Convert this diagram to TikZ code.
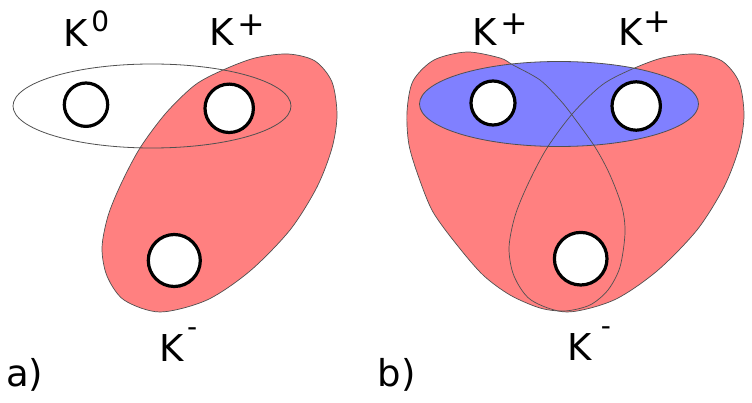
\documentclass[tikz,border=0pt]{standalone}
\usepackage{fontspec}
\setmainfont{DejaVu Sans}
\definecolor{pinkfill}{HTML}{FF8080}
\definecolor{bluefill}{HTML}{8080FF}
\definecolor{edgegray}{HTML}{505050}
\newcommand\upk[4]{\kern#1pt\raisebox{#2pt}{\fontsize{#3}{#3}\selectfont #4}}
\begin{document}
\begin{tikzpicture}[x=1pt,y=-1pt,
  disk/.style={circle, draw=black, line width=3.2pt, fill=white, inner sep=0pt},
  lab/.style={inner sep=0pt, anchor=base west, font=\fontsize{37}{40}\selectfont},
  blob/.style={fill=pinkfill},
  blobedge/.style={draw=edgegray, line width=0.7pt},
  ring/.style={draw=edgegray, line width=0.8pt}]
\useasboundingbox (0,0) rectangle (752,403);

% ---------- a) ----------
\path[blob, blobedge] plot[smooth cycle] coordinates {
  (288,54) (315,61) (332,82) (337,115) (332,148) (317,187) (290,230)
  (250,271) (207,300) (160,312) (124,300) (107,276) (102,248) (108,216)
  (121,184) (140,148) (166,113) (195,85) (223,70) (255,58)};
\draw[ring] (152,106) ellipse [x radius=139, y radius=42];
\node[disk, minimum size=43.4pt] (a0) at (86,104.7) {};
\node[disk, minimum size=48.4pt] (ap) at (229.2,108.3) {};
\node[disk, minimum size=52pt] (am) at (174.3,260.5) {};
\node[lab] (la0) at (63,46.7) {K\upk{4}{15}{28}{0}};
\node[lab] (lap) at (209.7,46) {K\upk{3}{10.3}{33}{+}};
\node[lab] (lam) at (159.7,361.7) {K\upk{3}{25}{28}{-}};
\node[lab] (tagA) at (6,386.7) {a)};

% ---------- b) ----------
\path[blob] plot[smooth cycle] coordinates {
  (467,52) (500,58) (513,65) (540,80) (560,100) (572,115) (595,147)
  (610,175) (622,207) (625,233) (620,267) (608,290) (590,305) (565,311)
  (540,308) (510,295) (483,275) (457,245) (433,212) (419,178) (409,145)
  (407,112) (413,81) (434,60)};
\begin{scope}[shift={(407,0)}]
\path[blob] plot[smooth cycle] coordinates {
  (288,54) (315,61) (332,82) (337,115) (332,148) (317,187) (290,230)
  (250,271) (207,300) (160,312) (124,300) (107,276) (102,248) (108,216)
  (121,184) (140,148) (166,113) (195,85) (223,70) (255,58)};
\end{scope}
\path[fill=bluefill, ring] (559,104) ellipse [x radius=139.5, y radius=42.5];
\path[blobedge] plot[smooth cycle] coordinates {
  (467,52) (500,58) (513,65) (540,80) (560,100) (572,115) (595,147)
  (610,175) (622,207) (625,233) (620,267) (608,290) (590,305) (565,311)
  (540,308) (510,295) (483,275) (457,245) (433,212) (419,178) (409,145)
  (407,112) (413,81) (434,60)};
\begin{scope}[shift={(407,0)}]
\path[blobedge] plot[smooth cycle] coordinates {
  (288,54) (315,61) (332,82) (337,115) (332,148) (317,187) (290,230)
  (250,271) (207,300) (160,312) (124,300) (107,276) (102,248) (108,216)
  (121,184) (140,148) (166,113) (195,85) (223,70) (255,58)};
\end{scope}
\node[disk, minimum size=44pt] (b1) at (493,103) {};
\node[disk, minimum size=48.4pt] (b2) at (636.2,106) {};
\node[disk, minimum size=52.6pt] (bm) at (580.7,258.7) {};
\node[lab] (lb1) at (472.4,45.7) {K\upk{3.5}{11.5}{33}{+}};
\node[lab] (lb2) at (618,45.7) {K\upk{1.5}{13.5}{33}{+}};
\node[lab] (lbm) at (567.4,360.7) {K\upk{9}{25}{28}{-}};
\node[lab] (tagB) at (377.6,386.7) {b)};
\end{tikzpicture}
\end{document}
